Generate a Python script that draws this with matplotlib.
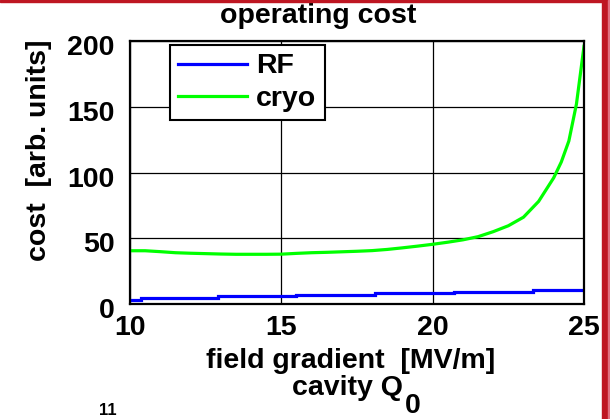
import matplotlib
matplotlib.use('Agg')
import matplotlib.pyplot as plt
from matplotlib.patches import Rectangle
from matplotlib.transforms import ScaledTranslation

plt.rcParams['font.family'] = ['Liberation Sans', 'DejaVu Sans']
plt.rcParams['font.weight'] = 'bold'

# cryo cost vs gradient
gradient = [10, 10.5, 11, 11.5, 12, 12.5, 13, 13.5, 14, 14.5, 15, 15.5, 16, 16.5,
            17, 17.5, 18, 18.5, 19, 19.5, 20, 20.5, 21, 21.5, 22, 22.5, 23, 23.5,
            24, 24.25, 24.5, 24.75, 25]
cryo = [40.5, 40.5, 39.8, 39.0, 38.6, 38.3, 38.0, 37.8, 37.8, 37.8, 37.9, 38.5,
        39.0, 39.3, 39.7, 40.1, 40.6, 41.5, 42.7, 44.0, 45.4, 47.0, 48.8, 51.2,
        55.0, 59.5, 66.0, 78.0, 96.0, 108.0, 124.0, 152.0, 196.0]

# RF cost is a staircase
rf_edges = [10, 10.35, 12.9, 15.5, 18.1, 20.7, 23.3, 25]
rf = [3.2, 4.8, 5.9, 7.1, 8.2, 9.3, 10.4]

xticks = [10, 15, 20, 25]
yticks = [0, 50, 100, 150, 200]

fs = 20.5
W, H = 610, 419
fig = plt.figure(figsize=(W / 100, H / 100), dpi=100)
ax = fig.add_axes([130 / W, 1 - 304 / H, 454 / W, 263 / H])

ax.stairs(rf, rf_edges, baseline=None, color='#0000ff', lw=2.3, label='RF')
ax.plot(gradient, cryo, color='#00ff00', lw=2.3, label='cryo')

ax.set_xlim(10, 25)
ax.set_ylim(0, 200)
ax.set_xticks(xticks)
ax.set_yticks(yticks)
ax.grid(True, color='black', lw=0.9)
ax.set_axisbelow(True)
for s in ax.spines.values():
    s.set_linewidth(1.6)
ax.tick_params(length=0, labelsize=fs)
ax.tick_params(axis='x', pad=8)
ax.tick_params(axis='y', pad=11)
for lab in ax.get_yticklabels():
    lab.set_transform(lab.get_transform() + ScaledTranslation(0, -4 / 100, fig.dpi_scale_trans))

leg = ax.legend(loc='upper left', bbox_to_anchor=(0.088, 0.985), borderaxespad=0,
                fontsize=fs, handlelength=2.4, handletextpad=0.32, borderpad=0.3,
                labelspacing=0.22, fancybox=False, framealpha=1, edgecolor='black')
leg.get_frame().set_linewidth(1.5)

fig.text(318 / W, 1 - 23 / H, 'operating cost', fontsize=fs, ha='center', va='baseline')
fig.text(39 / W, 1 - 150 / H, 'cost  [arb. units]', fontsize=fs, rotation=90,
         ha='center', va='center')
fig.text(351 / W, 1 - 368 / H, 'field gradient  [MV/m]', fontsize=fs,
         ha='center', va='baseline')
fig.text(292 / W, 1 - 395 / H, 'cavity Q', fontsize=fs, ha='left', va='baseline')
fig.text(405 / W, 1 - 413 / H, '0', fontsize=fs, ha='left', va='baseline')
fig.text(99 / W, 1 / H, '11', fontsize=12, ha='left', va='bottom')

# red frame of the slide
red = '#be1622'
fig.patches.append(Rectangle((0, 1 - 2 / H), 602 / W, 2 / H, transform=fig.transFigure,
                             color=red, zorder=10))
fig.patches.append(Rectangle((602 / W, 0), 6 / W, 1, transform=fig.transFigure,
                             color=red, zorder=10))
fig.patches.append(Rectangle((608 / W, 0), 2 / W, 1, transform=fig.transFigure,
                             color='#e07080', zorder=10))

fig.savefig('out.png', dpi=100)
